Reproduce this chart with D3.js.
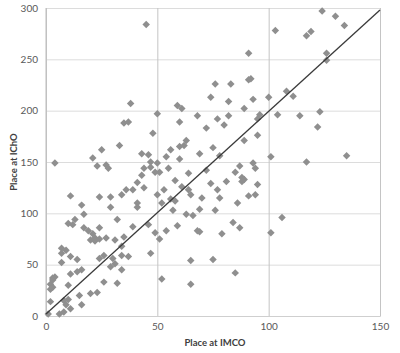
<!DOCTYPE html>
<html>
<head>
<meta charset="utf-8">
<script src="https://cdn.jsdelivr.net/npm/d3@7"></script>
<style>
  body { margin: 0; background: #fff; }
  text { font-family: Lato, "Open Sans", sans-serif; }
</style>
</head>
<body>
<div id="chart"></div>
<script>
// place at IMCO (x) vs place at IChO (y)
var imco = [45,38,35,37,33,25,21,23,27,28,4,48,50,43,46,47,50,47,43,44,51,49,54,55,56,59,61,60,60,62,60,63,64,68,69,
  103,91,92,91,76,83,74,82,93,100,89,77,82,80,72,96,95,104,95,89,75,78,101,93,94,87,85,88,72,114,123,122,108,111,
  117,119,124,130,134,126,126,117,135,
  74,81,88,89,95,77,70,78,91,94,86,69,76,106,84,87,101,79,69,75,85,
  41,44,36,39,34,58,61,64,53,50,52,56,58,41,41,65,57,63,66,46,39,59,49,54,51,68,35,34,37,47,65,34,52,65,
  11,24,29,16,29,17,32,10,12,13,17,19,21,22,24,20,22,24,27,31,7,9,7,11,14,7,24,26,34,30,31,29,
  11,14,16,4,3,3,2,3,2,10,26,32,15,20,23,2,8,9,10,11,16,1,6,8];
var icho = [284,207,188,189,166,162,154,146,147,144,149,178,197,158,157,150,149,145,137,144,140,140,155,144,162,205,202,189,165,166,153,171,139,195,158,
  278,256,231,230,226,226,213,209,211,213,202,192,195,186,183,196,192,196,176,171,164,156,155,149,144,146,140,135,142,195,199,184,219,214,
  273,277,297,292,283,256,249,150,156,
  129,131,131,133,128,123,115,115,117,118,110,104,103,96,91,86,81,80,82,55,42,
  130,125,123,123,118,132,126,123,123,118,110,114,112,110,106,118,103,99,98,89,87,88,81,83,75,83,77,59,58,61,54,45,36,31,
  117,116,116,108,106,99,94,90,89,94,86,83,80,76,86,74,73,75,76,74,66,64,61,58,55,52,56,59,68,56,51,48,
  41,43,45,38,37,35,31,28,26,30,33,32,20,22,23,14,15,11,16,7,11,2,2,4];

// reference line
var lineX = [0, 150];
var lineY = [2, 298];

var xTicks = [0, 50, 100, 150];
var yTicks = [0, 50, 100, 150, 200, 250, 300];

var width = 400, height = 353;
var plotL = 46, plotR = 380, plotT = 8, plotB = 316;

var svg = d3.select("#chart")
    .append("svg")
    .attr("width", width)
    .attr("height", height);

var x = d3.scaleLinear().domain([0, 150]).range([plotL, plotR]);
var y = d3.scaleLinear().domain([0, 300]).range([plotB, plotT]);

// horizontal grid + y labels
svg.append("g")
    .attr("transform", `translate(${plotL},0)`)
    .call(d3.axisLeft(y).tickValues(yTicks).tickSize(-(plotR - plotL)).tickPadding(8))
    .call(g => g.select(".domain").remove())
    .call(g => g.selectAll("line").attr("stroke", "#dcdcdc"))
    .call(g => g.selectAll("text").attr("fill", "#595959").style("font-size", "10px"));

// vertical grid + x labels
svg.append("g")
    .attr("transform", `translate(0,${plotB})`)
    .call(d3.axisBottom(x).tickValues(xTicks).tickSize(-(plotB - plotT)).tickPadding(7))
    .call(g => g.select(".domain").attr("stroke", "#cfcfcf"))
    .call(g => g.selectAll("line").attr("stroke", "#c4c4c4"))
    .call(g => g.selectAll("text").attr("fill", "#595959").style("font-size", "10px"));

// y axis line
svg.append("line")
    .attr("x1", plotL).attr("x2", plotL)
    .attr("y1", plotT).attr("y2", plotB)
    .attr("stroke", "#bdbdbd");

var pts = imco.map((v, i) => ({x: v, y: icho[i]}));

svg.append("g")
    .selectAll("path")
    .data(pts)
    .join("path")
    .attr("d", d3.symbol().type(d3.symbolSquare).size(28))
    .attr("transform", d => `translate(${x(d.x)},${y(d.y)}) rotate(45)`)
    .attr("fill", "#8f8f8f");

svg.append("line")
    .attr("x1", x(lineX[0])).attr("y1", y(lineY[0]))
    .attr("x2", x(lineX[1])).attr("y2", y(lineY[1]))
    .attr("stroke", "#3a3a3a")
    .attr("stroke-width", 1.3);

svg.append("text")
    .attr("x", 215)
    .attr("y", 346)
    .attr("text-anchor", "middle")
    .attr("fill", "#404040")
    .style("font-size", "9.5px")
    .style("font-weight", "bold")
    .text("Place at IMCO");

svg.append("text")
    .attr("transform", `translate(17,${(plotT + plotB) / 2}) rotate(-90)`)
    .attr("text-anchor", "middle")
    .attr("fill", "#404040")
    .style("font-size", "9.5px")
    .style("font-weight", "bold")
    .text("Place at IChO");
</script>
</body>
</html>
